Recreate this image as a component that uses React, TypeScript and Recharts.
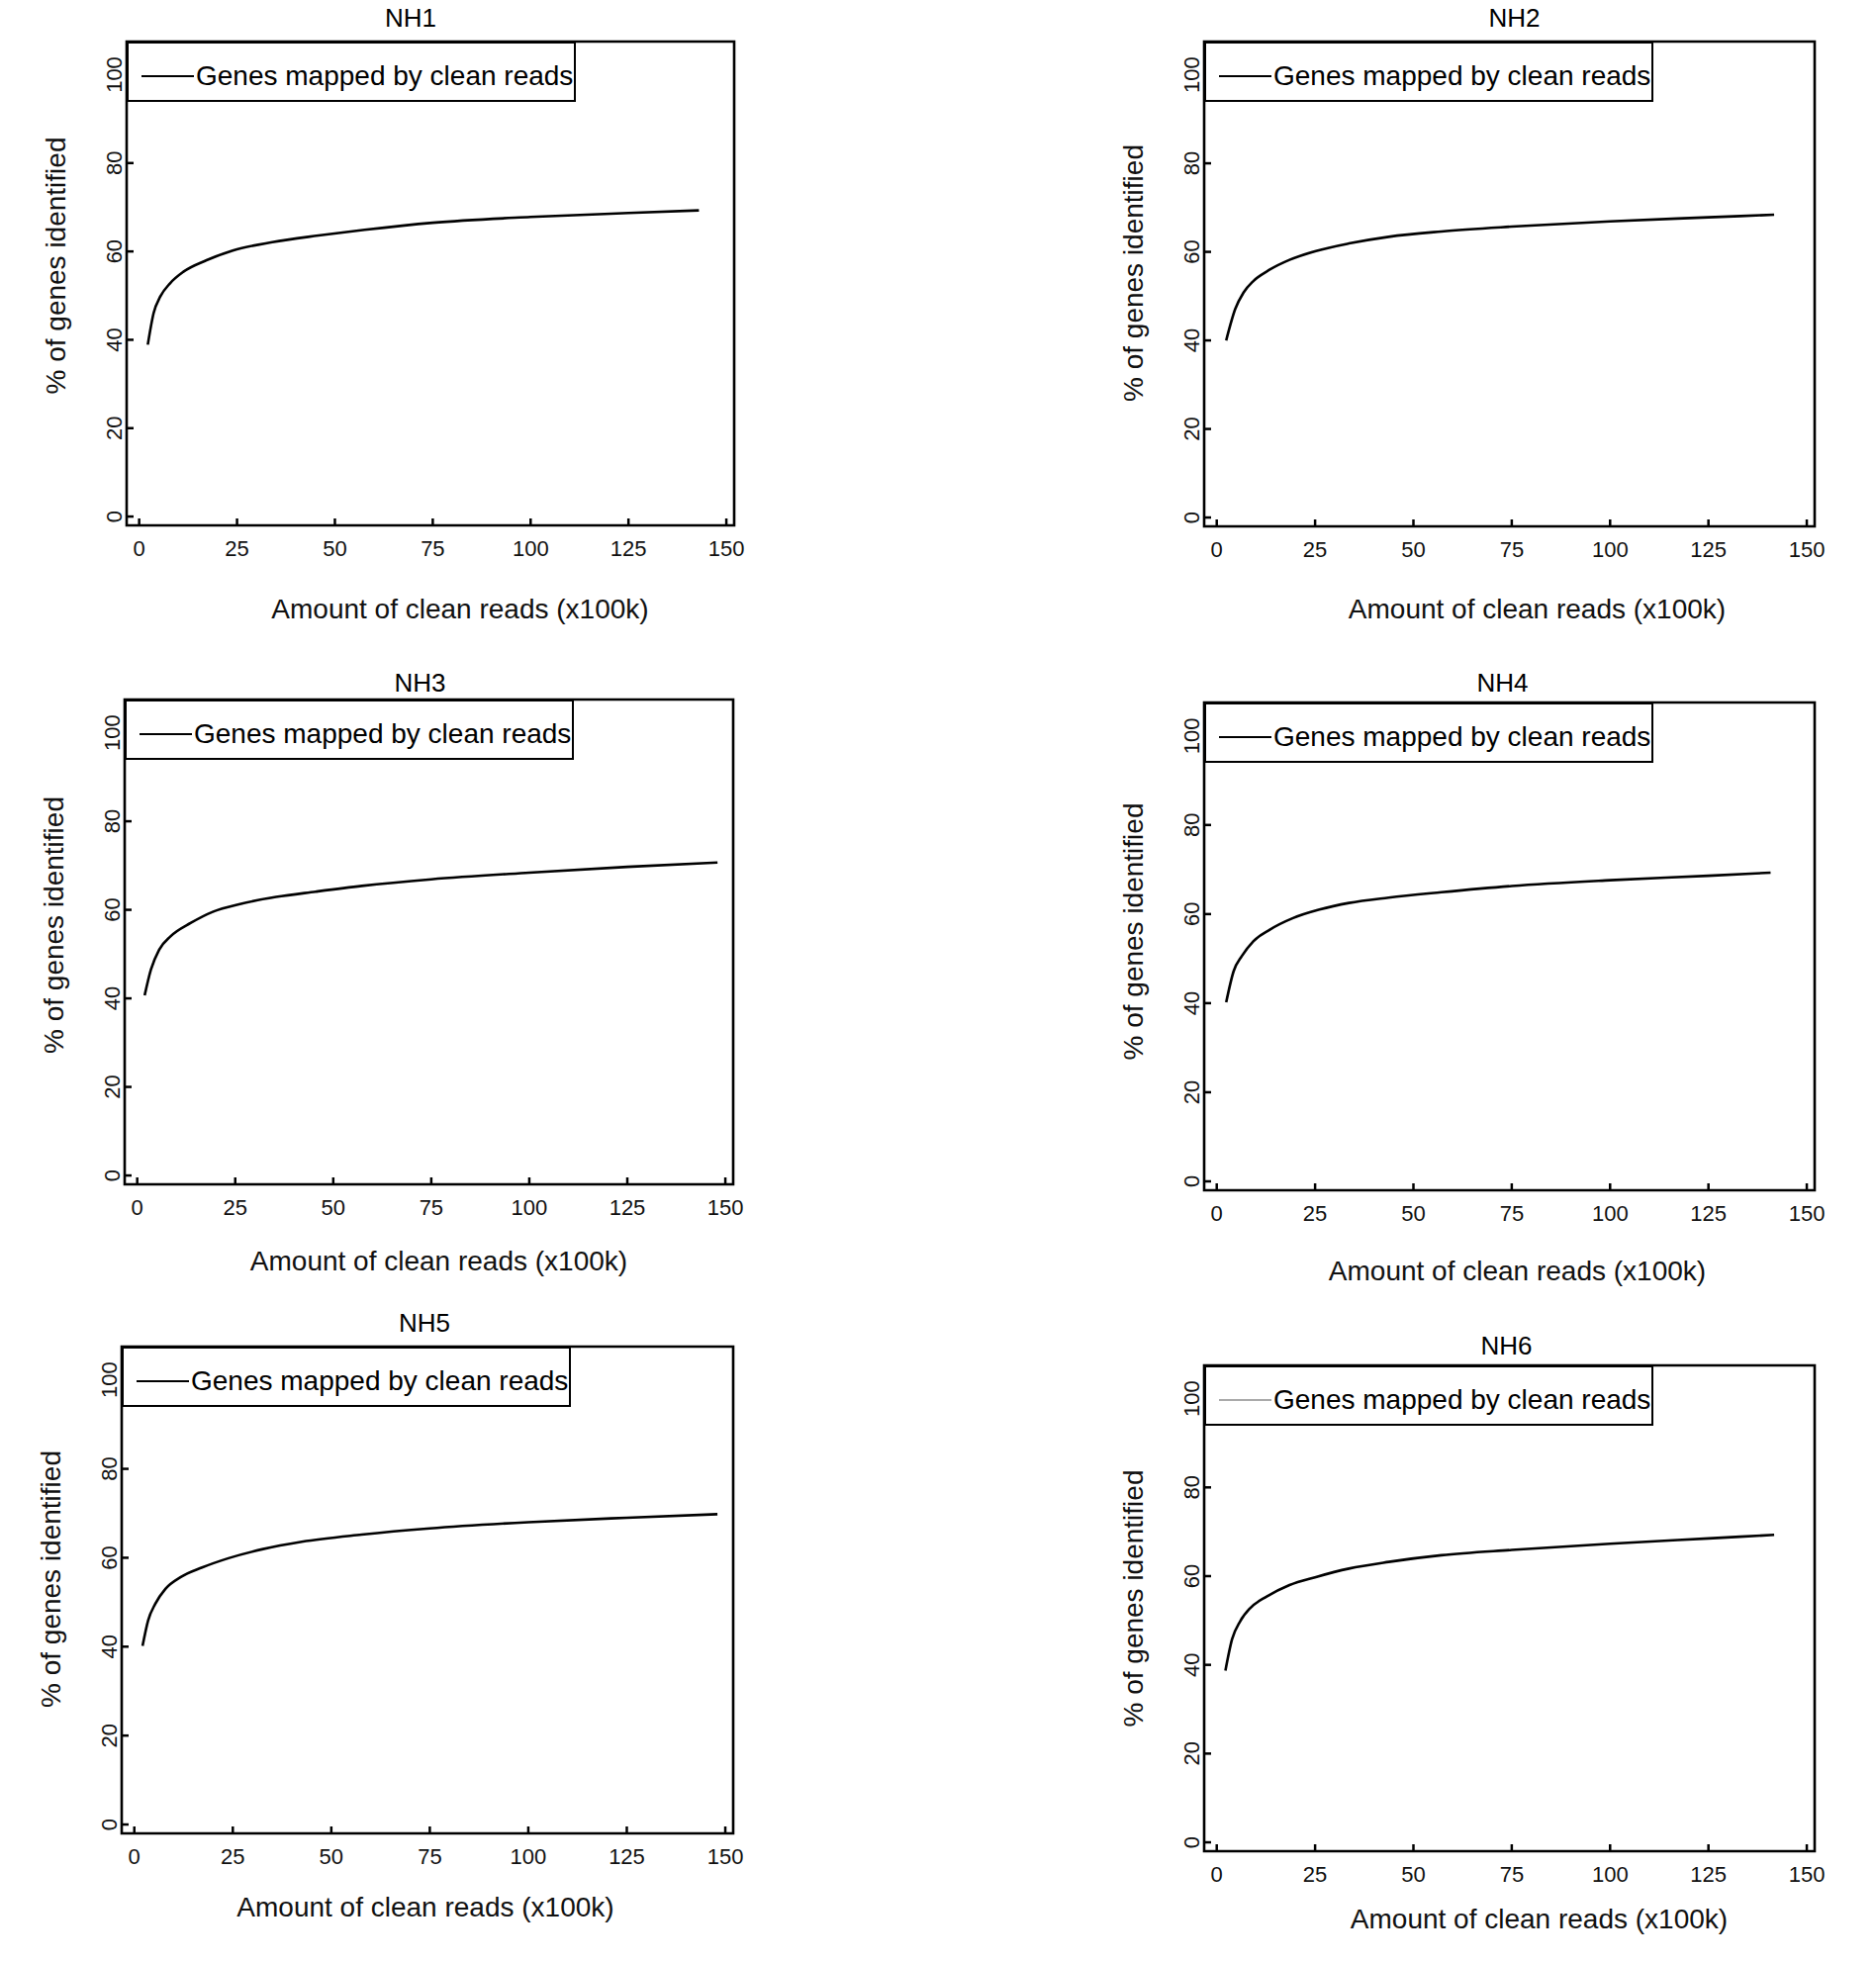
import React from "react";
import { LineChart, Line, XAxis, YAxis, ReferenceArea } from "recharts";

// reads (x100k) and % of genes identified
const readsNH1 = [2.2, 3.7, 5.4, 7.9, 11.3, 17.2, 23.9, 34, 45.8, 57.6, 75, 100, 125, 143];
const pctNH1 = [38.9, 46.1, 49.8, 52.8, 55.4, 58.0, 60.2, 62.1, 63.6, 64.9, 66.5, 67.8, 68.7, 69.3];

const readsNH2 = [2.4, 4.7, 6.8, 9.3, 13.5, 18.5, 25.2, 33.6, 43.7, 57.1, 75, 100, 125, 141.7];
const pctNH2 = [40.0, 47.1, 50.8, 53.4, 56.0, 58.2, 60.2, 61.9, 63.4, 64.6, 65.7, 66.9, 67.8, 68.4];

const readsNH3 = [1.9, 3.5, 5.6, 8.5, 13.6, 19.4, 26.2, 35.4, 45.5, 57.3, 75, 100, 125, 148];
const pctNH3 = [40.7, 46.5, 51.0, 54.0, 57.0, 59.6, 61.3, 62.9, 64.1, 65.4, 66.9, 68.4, 69.7, 70.7];

const readsNH4 = [2.4, 4.3, 6.4, 9.3, 13.5, 19.4, 26.1, 33.6, 43.7, 57.1, 75, 100, 125, 140.8];
const pctNH4 = [40.2, 47.2, 50.6, 53.9, 56.5, 59.1, 61.0, 62.5, 63.7, 64.9, 66.3, 67.6, 68.6, 69.3];

const readsNH5 = [2.1, 3.5, 5.3, 7.9, 11.7, 17.2, 23.9, 32.4, 42.5, 57.7, 75, 100, 125, 148];
const pctNH5 = [40.2, 45.9, 49.6, 53.0, 55.6, 57.8, 59.9, 61.9, 63.6, 65.2, 66.6, 68.0, 69.0, 69.8];

const readsNH6 = [2.2, 3.9, 6.0, 8.5, 12.7, 18.5, 25.2, 33.6, 43.7, 57.1, 75, 100, 125, 141.7];
const pctNH6 = [38.7, 45.8, 49.9, 52.8, 55.4, 58.0, 59.8, 61.7, 63.2, 64.7, 65.9, 67.3, 68.5, 69.3];

const xTicks = [0, 25, 50, 75, 100, 125, 150];
const yTicks = [0, 20, 40, 60, 80, 100];

const X_DOMAIN: [number, number] = [-3.2, 152];
const Y_DOMAIN: [number, number] = [-2, 107.5];

const FONT = "'Liberation Sans', Arial, Helvetica, sans-serif";
const NARROW = "'Liberation Sans Narrow', 'Arial Narrow', 'Liberation Sans', sans-serif";
const INK = "#000";

const Y_AXIS_W = 144;
const TOP_PAD = 60;
const X_AXIS_H = 110;
const RIGHT_PAD = 20;

const panels = [
  { title: "NH1", reads: readsNH1, pct: pctNH1, left: 128, top: 42, w: 614, h: 489, titleDx: -20, titleUp: 24, xLabDy: 85, xLabDx: 30, yLabDy: -18, legendColor: INK },
  { title: "NH2", reads: readsNH2, pct: pctNH2, left: 1217, top: 42, w: 617, h: 490, titleDx: 5, titleUp: 24, xLabDy: 84, xLabDx: 28, yLabDy: -11, legendColor: INK },
  { title: "NH3", reads: readsNH3, pct: pctNH3, left: 126, top: 707, w: 615, h: 490, titleDx: -9, titleUp: 17, xLabDy: 78, xLabDx: 10, yLabDy: -17, legendColor: INK },
  { title: "NH4", reads: readsNH4, pct: pctNH4, left: 1217, top: 710, w: 617, h: 493, titleDx: -7, titleUp: 20, xLabDy: 82, xLabDx: 8, yLabDy: -15, legendColor: INK },
  { title: "NH5", reads: readsNH5, pct: pctNH5, left: 123, top: 1361, w: 618, h: 492, titleDx: -3, titleUp: 24, xLabDy: 75, xLabDx: -2, yLabDy: -11, legendColor: INK },
  { title: "NH6", reads: readsNH6, pct: pctNH6, left: 1217, top: 1380, w: 617, h: 491, titleDx: -3, titleUp: 20, xLabDy: 69, xLabDx: 30, yLabDy: -10, legendColor: "#aaa" },
];

function XTick(props: any) {
  const { x, y, payload } = props;
  return (
    <g>
      <line x1={x} y1={y} x2={x} y2={y - 7} stroke={INK} strokeWidth={2.5} />
      <text x={x} y={y + 23} textAnchor="middle" dominantBaseline="central" fontSize={22} fontFamily={NARROW} fill="#111">
        {payload.value}
      </text>
    </g>
  );
}

function YTick(props: any) {
  const { x, y, payload } = props;
  const tx = x - 12;
  return (
    <g>
      <line x1={x} y1={y} x2={x + 7} y2={y} stroke={INK} strokeWidth={2.5} />
      <text
        x={tx}
        y={y}
        textAnchor="middle"
        dominantBaseline="central"
        fontSize={22}
        fontFamily={NARROW}
        fill="#111"
        transform={`rotate(-90, ${tx}, ${y})`}
      >
        {payload.value}
      </text>
    </g>
  );
}

function Panel({ p }: { p: (typeof panels)[number] }) {
  const data = p.reads.map((x, i) => ({ x, pct: p.pct[i] }));
  const chartW = Y_AXIS_W + p.w + RIGHT_PAD;
  const chartH = TOP_PAD + p.h + X_AXIS_H;
  const chartLeft = p.left - Y_AXIS_W;
  const chartTop = p.top - TOP_PAD;

  return (
    <>
      <div style={{ position: "absolute", left: chartLeft, top: chartTop }}>
        <LineChart width={chartW} height={chartH} data={data} margin={{ top: TOP_PAD, right: RIGHT_PAD, bottom: 0, left: 0 }}>
          <XAxis
            type="number"
            dataKey="x"
            domain={X_DOMAIN}
            ticks={xTicks}
            allowDataOverflow
            height={X_AXIS_H}
            axisLine={false}
            tickLine={false}
            tickSize={0}
            tickMargin={0}
            tick={<XTick />}
            interval={0}
            label={{
              value: "Amount of clean reads (x100k)",
              position: "insideTop",
              offset: p.xLabDy - 11,
              dx: p.xLabDx,
              fontSize: 28,
              fontFamily: FONT,
              fill: "#111",
            }}
          />
          <YAxis
            type="number"
            domain={Y_DOMAIN}
            ticks={yTicks}
            allowDataOverflow
            width={Y_AXIS_W}
            axisLine={false}
            tickLine={false}
            tickSize={0}
            tickMargin={0}
            tick={<YTick />}
            interval={0}
            label={{
              value: "% of genes identified",
              position: "center",
              angle: -90,
              dy: p.yLabDy,
              fontSize: 28,
              fontFamily: FONT,
              fill: "#111",
            }}
          />
          <Line type="monotone" dataKey="pct" stroke={INK} strokeWidth={2.6} dot={false} isAnimationActive={false} />
          <ReferenceArea x1={X_DOMAIN[0]} x2={X_DOMAIN[1]} y1={Y_DOMAIN[0]} y2={Y_DOMAIN[1]} fill="none" stroke={INK} strokeWidth={2.6} />
        </LineChart>
      </div>
      <div
        style={{
          position: "absolute",
          left: p.left + p.w / 2 + p.titleDx,
          top: p.top - p.titleUp,
          transform: "translate(-50%, -50%)",
          fontFamily: FONT,
          fontSize: 26,
          color: "#000",
          whiteSpace: "nowrap",
        }}
      >
        {p.title}
      </div>
      <div
        style={{
          position: "absolute",
          left: p.left,
          top: p.top,
          width: 454,
          height: 61,
          boxSizing: "border-box",
          border: `2.6px solid ${INK}`,
          background: "#fff",
        }}
      >
        <div style={{ position: "absolute", left: 13, top: 32, width: 53, borderTop: `2.5px solid ${p.legendColor}` }} />
        <div
          style={{
            position: "absolute",
            left: 68,
            top: 16,
            lineHeight: "34px",
            fontFamily: FONT,
            fontSize: 28,
            color: "#000",
            whiteSpace: "nowrap",
          }}
        >
          Genes mapped by clean reads
        </div>
      </div>
    </>
  );
}

export default function App() {
  return (
    <div style={{ position: "absolute", left: 0, top: 0, width: 1896, height: 1984, background: "#fff" }}>
      {panels.map((p) => (
        <Panel key={p.title} p={p} />
      ))}
    </div>
  );
}
